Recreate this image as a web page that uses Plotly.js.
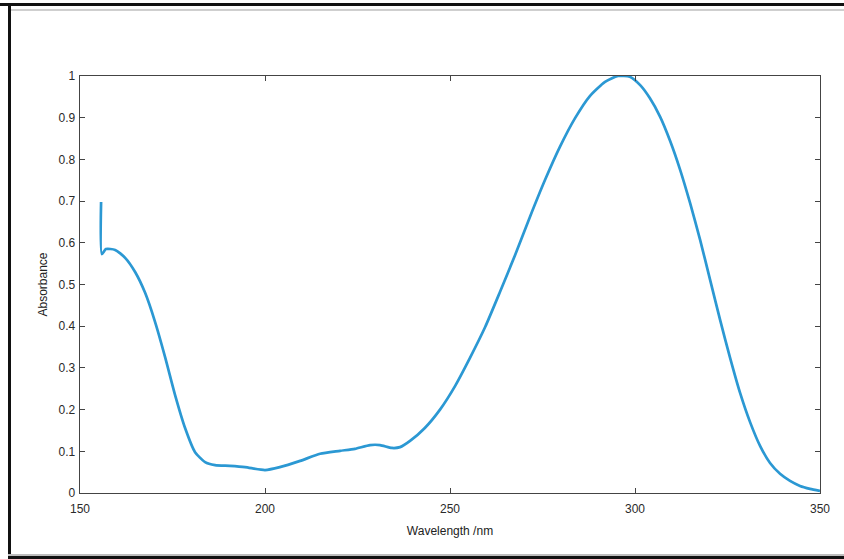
<!DOCTYPE html>
<html>
<head>
<meta charset="utf-8">
<script src="https://cdn.plot.ly/plotly-3.0.1.min.js"></script>
<style>
  html, body { margin: 0; padding: 0; background: #fff; }
  #wrap { position: relative; width: 844px; height: 559px; overflow: hidden; }
  #chart { position: absolute; left: 0; top: 0; width: 844px; height: 559px; }
  .fr { position: absolute; pointer-events: none; }
</style>
</head>
<body>
<div id="wrap">
  <div id="chart"></div>
  <div class="fr" style="left:0;top:3px;width:844px;height:3px;background:#111;"></div>
  <div class="fr" style="left:10px;top:9px;width:834px;height:2px;background:#cfcfcf;"></div>
  <div class="fr" style="left:8px;top:3px;width:3px;height:556px;background:#111;"></div>
  <div class="fr" style="left:8px;top:554px;width:836px;height:2px;background:#bdbdbd;"></div>
  <div class="fr" style="left:8px;top:556px;width:836px;height:3px;background:#111;"></div>
</div>
<script>
const wavelength = [155.7, 155.9, 157, 159.5, 162.2, 164.9, 167.6, 170.3, 173, 175.7, 178.4, 181.1, 183.8, 186.5, 190.5, 194.6, 200, 204, 209.5, 214.9, 220.3, 224.3, 228.4, 231.1, 234.3, 236.5, 239.2, 243.2, 247.3, 251.4, 255.4, 259.5, 263.5, 267.6, 271.6, 275.7, 279.7, 283.8, 287.8, 291.9, 295.4, 298.6, 301.4, 304, 306.8, 309.5, 312.2, 314.9, 317.6, 320.3, 323, 325.7, 328.4, 331.1, 333.8, 336.5, 339.2, 341.9, 344.6, 347.3, 350];
const absorbance = [0.698, 0.573, 0.585, 0.583, 0.564, 0.53, 0.48, 0.41, 0.326, 0.235, 0.156, 0.098, 0.074, 0.067, 0.065, 0.062, 0.055, 0.062, 0.077, 0.094, 0.101, 0.106, 0.115, 0.115, 0.108, 0.11, 0.125, 0.156, 0.2, 0.257, 0.324, 0.398, 0.482, 0.571, 0.662, 0.751, 0.83, 0.899, 0.952, 0.986, 1.0, 0.998, 0.978, 0.947, 0.902, 0.844, 0.775, 0.695, 0.607, 0.511, 0.415, 0.324, 0.24, 0.17, 0.113, 0.072, 0.046, 0.029, 0.017, 0.01, 0.005];
const xTicks = [150, 200, 250, 300, 350];
const yTicks = [0, 0.1, 0.2, 0.3, 0.4, 0.5, 0.6, 0.7, 0.8, 0.9, 1];
const yTickLabels = ["0", "0.1", "0.2", "0.3", "0.4", "0.5", "0.6", "0.7", "0.8", "0.9", "1"];

const trace = {
  x: wavelength, y: absorbance, type: 'scatter', mode: 'lines',
  line: { color: '#2b98d3', width: 2.7, shape: 'spline', smoothing: 0.6 },
  cliponaxis: false, hoverinfo: 'skip'
};
const axisCommon = {
  showline: true, mirror: 'ticks', linecolor: '#444', linewidth: 1.3,
  ticks: 'inside', ticklen: 5, tickcolor: '#444', tickwidth: 1,
  showgrid: false, zeroline: false,
  tickfont: { family: 'Liberation Sans, Arial, sans-serif', size: 12, color: '#2a2a2a' }
};
const layout = {
  width: 844, height: 559,
  margin: { l: 80, r: 24, t: 76, b: 66 },
  paper_bgcolor: '#fff', plot_bgcolor: '#fff',
  showlegend: false,
  xaxis: Object.assign({}, axisCommon, {
    range: [150, 350], tickmode: 'array', tickvals: xTicks,
    ticklabelstandoff: 4,
    title: { text: 'Wavelength /nm', standoff: 12, font: { family: 'Liberation Sans, Arial, sans-serif', size: 12, color: '#222' } }
  }),
  yaxis: Object.assign({}, axisCommon, {
    range: [0, 1], tickmode: 'array', tickvals: yTicks, ticktext: yTickLabels,
    ticklabelstandoff: 1,
    title: { text: 'Absorbance', standoff: 8, font: { family: 'Liberation Sans, Arial, sans-serif', size: 12, color: '#222' } }
  })
};
Plotly.newPlot('chart', [trace], layout, { displayModeBar: false, staticPlot: true });
</script>
</body>
</html>
